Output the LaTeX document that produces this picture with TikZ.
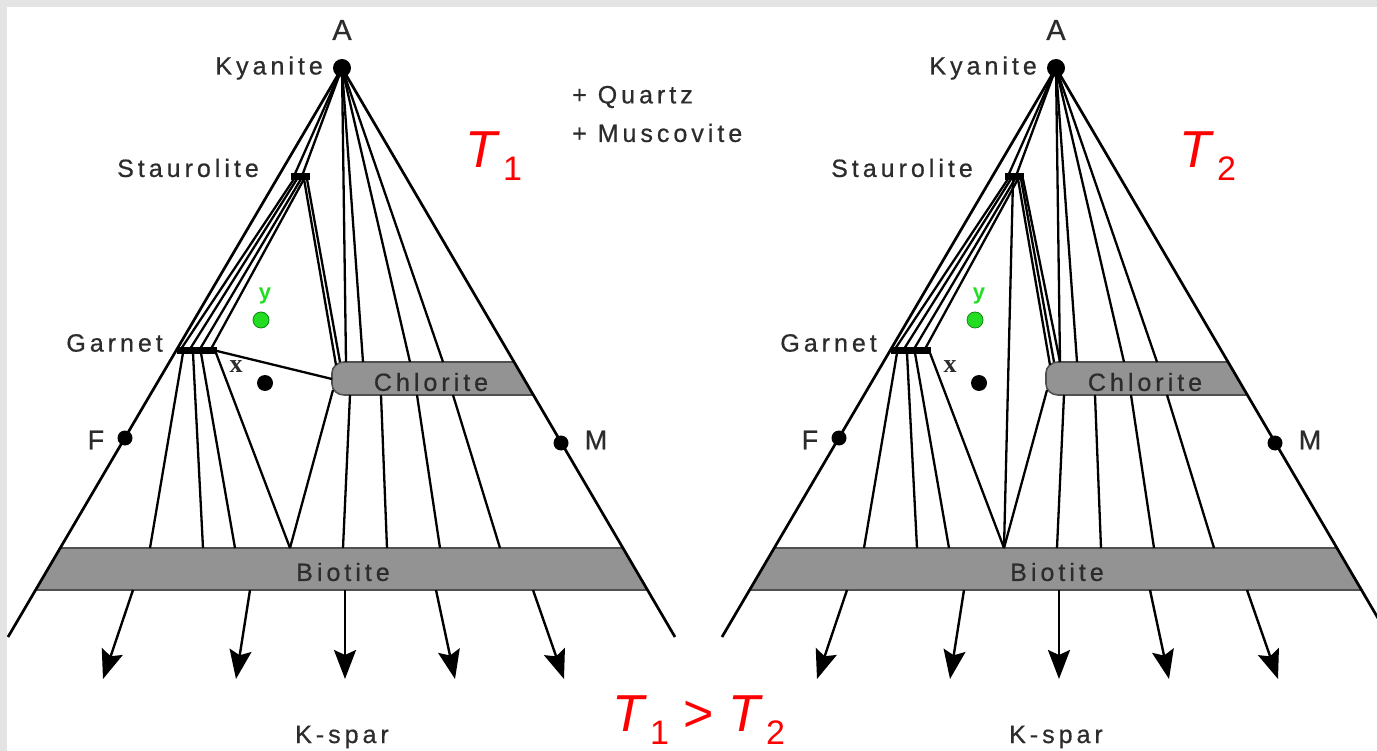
\documentclass[tikz,border=0pt]{standalone}
\usepackage{fontspec}
\setmainfont{Liberation Sans}
\newfontfamily\lblfont[LetterSpace=16,FakeBold=0.6]{Liberation Sans}
\newfontfamily\serifx{Liberation Serif}
\newfontfamily\redfont{Liberation Sans}
\usetikzlibrary{arrows.meta,calc}
\definecolor{labelgray}{HTML}{2C2C2C}
\definecolor{bandgray}{HTML}{939393}
\definecolor{bandedge}{HTML}{505050}
\definecolor{bordergray}{HTML}{E4E4E4}
\definecolor{ygreen}{HTML}{22DD22}
\definecolor{ydark}{HTML}{118811}
\definecolor{tred}{HTML}{FF0000}

\newcommand{\lblsize}{\fontsize{25}{28}\selectfont}
\newcommand{\Tsub}[1]{\textit{T}\kern3pt\raisebox{-13pt}{\fontsize{34}{34}\selectfont #1}}

\tikzset{
  tie/.style={line width=2.3pt},
  edgeline/.style={line width=2.7pt},
  barline/.style={line width=7pt},
  lbl/.style={font=\lblfont\lblsize, text=labelgray, inner sep=0pt},
  band/.style={fill=bandgray, draw=bandedge, line width=1.6pt},
  karrow/.style={line width=2.4pt, -{Stealth[length=29pt,width=22pt,inset=5pt]}},
  bdot/.style={circle, fill=black, inner sep=0pt, minimum size=15pt},
  gdot/.style={circle, fill=ygreen, draw=ydark, line width=0.8pt, inner sep=0pt, minimum size=16pt},
  redlbl/.style={font=\redfont\fontsize{52}{52}\selectfont, text=tred, inner sep=0pt},
}

% common parts of one AFM diagram, #1 = name prefix
\newcommand{\AFMdiagram}[1]{%
  \coordinate (#1A) at (342,68);
  \coordinate (#1BL) at (8,637);
  \coordinate (#1BR) at (675,637);
  % biotite band corners
  \coordinate (#1b1) at ($(#1A)!0.8436!(#1BL)$);
  \coordinate (#1b2) at ($(#1A)!0.8436!(#1BR)$);
  \coordinate (#1b3) at ($(#1A)!0.9174!(#1BR)$);
  \coordinate (#1b4) at ($(#1A)!0.9174!(#1BL)$);
  % chlorite band corners
  \coordinate (#1c1) at ($(#1A)!0.5167!(#1BR)$);
  \coordinate (#1c2) at ($(#1A)!0.5747!(#1BR)$);
  \coordinate (#1ct) at (344,362);
  \coordinate (#1cb) at (344,395);
  \coordinate (#1cl) at (332,379);
  % bars
  \coordinate (#1S1) at (291,177);
  \coordinate (#1S2) at (310,177);
  \coordinate (#1G1) at (177,351);
  \coordinate (#1G2) at (217,351);
  % staurolite attachment points
  \coordinate (#1sa1) at (294,176);
  \coordinate (#1sa2) at (302,176);
  \coordinate (#1sg1) at (294,179);
  \coordinate (#1sg2) at (297,179);
  \coordinate (#1sg3) at (301,179);
  \coordinate (#1sg4) at (304,179);
  \coordinate (#1sc1) at (304,179);
  \coordinate (#1sc2) at (307,179);
  \coordinate (#1sb) at (299,180);
  % garnet attachment points
  \coordinate (#1gs1) at (181,349);
  \coordinate (#1gs2) at (190,349);
  \coordinate (#1gs3) at (200,349);
  \coordinate (#1gs4) at (211,349);
  \coordinate (#1gb1) at (183,353);
  \coordinate (#1gb2) at (193,353);
  \coordinate (#1gb3) at (201,353);
  \coordinate (#1gb4) at (216,353);
  % chlorite attachment points
  \coordinate (#1ct0) at (336,365);
  \coordinate (#1ct1) at (340,362);
  \coordinate (#1ca1) at (346,362);
  \coordinate (#1ca2) at (363,362);
  \coordinate (#1ca3) at (410,362);
  \coordinate (#1ca4) at (443,362);
  \coordinate (#1cb0) at (333,390);
  \coordinate (#1cb1) at (350,395);
  \coordinate (#1cb2) at (381,395);
  \coordinate (#1cb3) at (417,395);
  \coordinate (#1cb4) at (453,395);
  % biotite top attachment points
  \coordinate (#1bt1) at (150,548);
  \coordinate (#1bt2) at (203,548);
  \coordinate (#1bt3) at (235,548);
  \coordinate (#1bt4) at (290,548);
  \coordinate (#1bt5) at (343,548);
  \coordinate (#1bt6) at (387,548);
  \coordinate (#1bt7) at (440,548);
  \coordinate (#1bt8) at (500,548);
  % arrows
  \coordinate (#1as1) at (133,590); \coordinate (#1ae1) at (103,679);
  \coordinate (#1as2) at (250,590); \coordinate (#1ae2) at (236,679);
  \coordinate (#1as3) at (345,590); \coordinate (#1ae3) at (345,679);
  \coordinate (#1as4) at (436,590); \coordinate (#1ae4) at (455,679);
  \coordinate (#1as5) at (533,590); \coordinate (#1ae5) at (564,679);
  % bands
  \filldraw[band] (#1b1) -- (#1b2) -- (#1b3) -- (#1b4) -- cycle;
  \filldraw[band] (#1ct) -- (#1c1) -- (#1c2) -- (#1cb)
      to[out=180,in=-90] (332,384) -- (332,373) to[out=90,in=180] (#1ct) -- cycle;
  % triangle edges
  \draw[edgeline] (#1BL) -- (#1A) -- (#1BR);
  % tie lines
  \draw[tie] (#1A) -- (#1sa1);
  \draw[tie] (#1A) -- (#1sa2);
  \draw[tie] (#1sg1) -- (#1gs1);
  \draw[tie] (#1sg2) -- (#1gs2);
  \draw[tie] (#1sg3) -- (#1gs3);
  \draw[tie] (#1sg4) -- (#1gs4);
  \draw[tie] (#1A) -- (#1ca1);
  \draw[tie] (#1A) -- (#1ca2);
  \draw[tie] (#1A) -- (#1ca3);
  \draw[tie] (#1A) -- (#1ca4);
  \draw[tie] (#1gb1) -- (#1bt1);
  \draw[tie] (#1gb2) -- (#1bt2);
  \draw[tie] (#1gb3) -- (#1bt3);
  \draw[tie] (#1gb4) -- (#1bt4);
  \draw[tie] (#1cb0) -- (#1bt4);
  \draw[tie] (#1cb1) -- (#1bt5);
  \draw[tie] (#1cb2) -- (#1bt6);
  \draw[tie] (#1cb3) -- (#1bt7);
  \draw[tie] (#1cb4) -- (#1bt8);
  % bars
  \draw[barline] (#1S1) -- (#1S2);
  \draw[barline] (#1G1) -- (#1G2);
  % arrows
  \draw[karrow] (#1as1) -- (#1ae1);
  \draw[karrow] (#1as2) -- (#1ae2);
  \draw[karrow] (#1as3) -- (#1ae3);
  \draw[karrow] (#1as4) -- (#1ae4);
  \draw[karrow] (#1as5) -- (#1ae5);
  % dots
  \node[bdot, minimum size=18pt] (#1Ky) at (#1A) {};
  \node[bdot] (#1Fd) at (125,438) {};
  \node[bdot] (#1Md) at (561,443) {};
  \node[bdot, minimum size=16pt] (#1xd) at (265,383) {};
  \node[gdot] (#1yd) at (261,320) {};
  % labels
  \node[lbl, font=\lblfont\fontsize{29}{30}\selectfont] (#1Alab) at (342,30) {A};
  \node[lbl, anchor=east] (#1Kylab) at (323,68) {Kyanite};
  \node[lbl, anchor=east] (#1Stlab) at (259,168) {Staurolite};
  \node[lbl, anchor=east] (#1Galab) at (163,343) {Garnet};
  \node[lbl, font=\lblfont\fontsize{27}{30}\selectfont] (#1Flab) at (96,440) {F};
  \node[lbl, font=\lblfont\fontsize{27}{30}\selectfont] (#1Mlab) at (596,440) {M};
  \node[lbl] (#1Chlab) at (431,382) {Chlorite};
  \node[lbl] (#1Bilab) at (343,572) {Biotite};
  \node[lbl] (#1Kslab) at (342,737) {K-spar};
  \node[font=\serifx\fontsize{26}{26}\selectfont\bfseries, text=labelgray, inner sep=0pt] (#1xlab) at (236,367) {x};
  \node[font=\fontsize{22}{22}\selectfont\bfseries, text=ygreen, inner sep=0pt] (#1ylab) at (265,296) {y};
}

\begin{document}
\begin{tikzpicture}[x=1pt, y=-1pt]
  \useasboundingbox (0,0) rectangle (1377,751);
  \clip (0,0) rectangle (1377,751);
  \fill[bordergray] (0,0) rectangle (1377,751);
  \fill[white] (7,7) rectangle (1377,751);

  % ---------- T1 diagram ----------
  \AFMdiagram{l}
  \draw[tie] (lsc1) -- (lct0);
  \draw[tie] (lsc2) -- (lct1);
  \draw[tie] (lG2) -- (lcl);
  \node[lbl, anchor=west] (quartz) at (572,97) {+ Quartz};
  \node[lbl, anchor=west] (musc) at (572,133) {+ Muscovite};
  \node[redlbl, anchor=base west] (T1) at (465,168) {\Tsub{1}};

  % ---------- T2 diagram ----------
  \begin{scope}[xshift=714pt]
    \AFMdiagram{r}
    \draw[tie] (rsc1) -- (rct0);
    \coordinate (rsc3) at (309,179);
    \draw[tie] (rsc2) -- (rct1);
    \draw[tie] (rsc3) -- (rca1);
    \draw[tie] (rsb) -- (rbt4);
    \node[redlbl, anchor=base west] (T2) at (465,168) {\Tsub{2}};
  \end{scope}

  % ---------- comparison ----------
  \node[redlbl, anchor=base west] (Tcmp) at (612,731) {\Tsub{1} > \Tsub{2}};
\end{tikzpicture}
\end{document}
